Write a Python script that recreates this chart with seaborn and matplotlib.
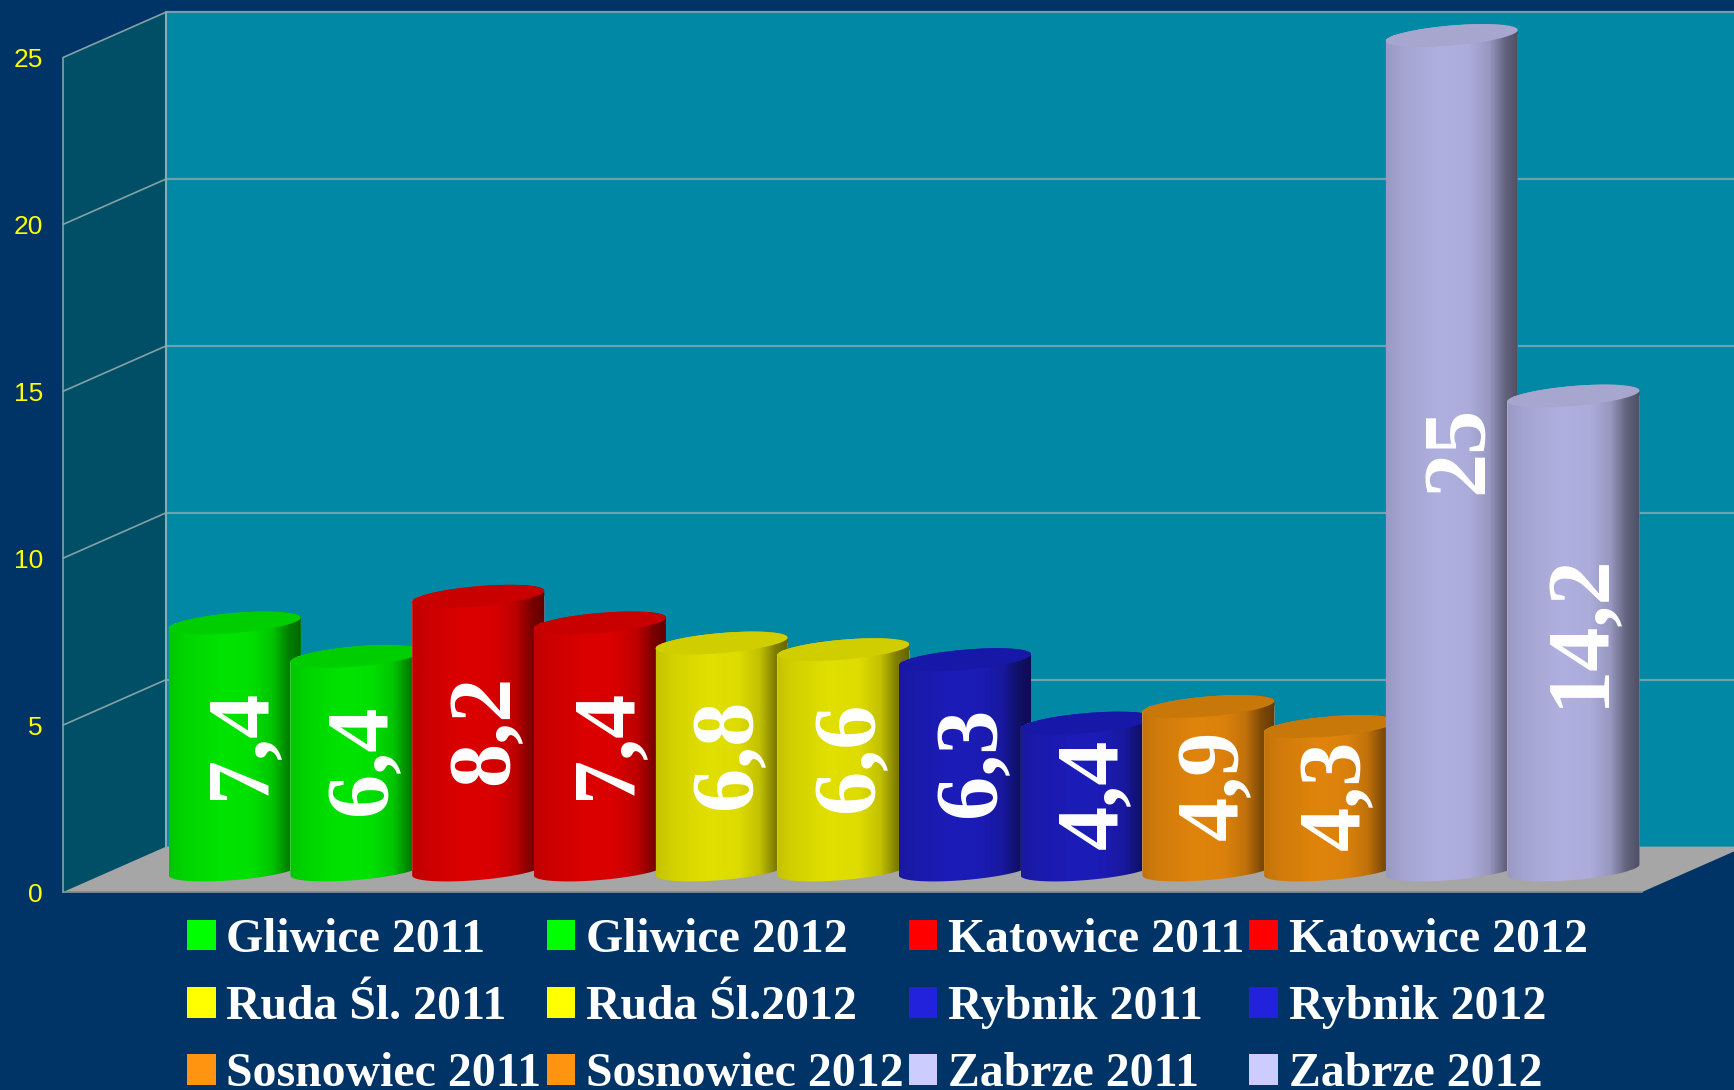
import numpy as np
import pandas as pd
import matplotlib
matplotlib.use("Agg")
import matplotlib.pyplot as plt
from matplotlib.patches import Patch, Polygon
from matplotlib.path import Path
import seaborn as sns

labels = ["Gliwice 2011", "Gliwice 2012", "Katowice 2011", "Katowice 2012",
          "Ruda Śl. 2011", "Ruda Śl.2012", "Rybnik 2011", "Rybnik 2012",
          "Sosnowiec 2011", "Sosnowiec 2012", "Zabrze 2011", "Zabrze 2012"]
values = [7.4, 6.4, 8.2, 7.4, 6.8, 6.6, 6.3, 4.4, 4.9, 4.3, 25, 14.2]
bar_colors = ["#00E400", "#00E400", "#DC0000", "#DC0000", "#E2E000", "#E2E000",
              "#1C1CB8", "#1C1CB8", "#E0840C", "#E0840C", "#B0B0E0", "#B0B0E0"]
top_colors = ["#00CE00", "#00CE00", "#C80000", "#C80000", "#D0CE00", "#D0CE00",
              "#1818A8", "#1818A8", "#C87808", "#C87808", "#A7A6CF", "#A7A6CF"]
legend_colors = ["#00FF00", "#00FF00", "#FF0000", "#FF0000", "#FFFF00", "#FFFF00",
                 "#2222DD", "#2222DD", "#FF9410", "#FF9410", "#CCCCFF", "#CCCCFF"]
tick_values = [0, 5, 10, 15, 20, 25]

NAVY = "#003366"
BACK = "#0088A4"
SIDE = "#004F66"
FLOOR = "#A6A6A6"
GRID = "#6CA3AF"
W, H = 1734, 1090
PX_X, X0 = 121.7, 234.8   # pixels per bar slot, pixel of first bar
PX_Y, Y0 = 33.38, 870.0   # pixels per unit, pixel of the bar base
FRONT = -0.66             # value offset of the front plane
REAR = 0.70               # value offset of the back wall
LEFT_F, LEFT_B = (63 - X0) / PX_X, (166 - X0) / PX_X
RIGHT_F, RIGHT_B = (1642 - X0) / PX_X, (1745 - X0) / PX_X
BAR_W = 1.085
TILT, DEPTH = 0.165, 0.30
STOPS_X = [0, .12, .40, .62, .78, .90, 1]
STOPS_V = [.87, .93, 1.0, .98, .86, .56, .44]

sns.set_theme(style="white", rc={"figure.facecolor": NAVY, "axes.facecolor": NAVY})
plt.rcParams["font.family"] = ["Liberation Sans", "DejaVu Sans"]

fig = plt.figure(figsize=(W / 100, H / 100), dpi=100, facecolor=NAVY)
ax = fig.add_axes([0, 0, 1, 1])

df = pd.DataFrame({"label": labels, "value": values})
sns.barplot(data=df, x="label", y="value", hue="label", order=labels, hue_order=labels,
            palette=bar_colors, width=BAR_W, dodge=False, legend=False,
            saturation=1, ax=ax)

# walls and floor
top = tick_values[-1]
ax.add_patch(Polygon([(LEFT_B, REAR), (RIGHT_B + 1, REAR), (RIGHT_B + 1, top + REAR), (LEFT_B, top + REAR)],
                     fc=BACK, ec="none", zorder=1))
ax.add_patch(Polygon([(LEFT_F, FRONT), (LEFT_B, REAR), (LEFT_B, top + REAR), (LEFT_F, top + FRONT)],
                     fc=SIDE, ec="none", zorder=1))
ax.add_patch(Polygon([(LEFT_F, FRONT), (RIGHT_F, FRONT), (RIGHT_B, REAR), (LEFT_B, REAR)],
                     fc=FLOOR, ec="none", zorder=2))
ax.plot([LEFT_F, RIGHT_F], [FRONT, FRONT], color="#7C8C98", lw=1.3, zorder=3)
for v in tick_values[1:]:
    ax.plot([LEFT_B, RIGHT_B + 1], [v + REAR, v + REAR], color=GRID, lw=1.6, zorder=3)
    ax.plot([LEFT_F, LEFT_B], [v + FRONT, v + REAR], color="#84A2A8", lw=1.2, zorder=3)
ax.plot([LEFT_B, LEFT_B], [REAR, top + REAR], color="#84ACB4", lw=1.5, zorder=3)
ax.plot([LEFT_F, LEFT_F], [FRONT, top + FRONT], color="#84A2A8", lw=1.2, zorder=3)

# cylinders built on the seaborn bars
t_arc = np.linspace(0, np.pi, 80)
for i, (cont, val, col, tc) in enumerate(zip(ax.containers, values, bar_colors, top_colors)):
    rect = cont[0]
    l, w = rect.get_x(), rect.get_width()
    cx, hw = l + w / 2, w / 2
    h = rect.get_height()
    arc_top = np.c_[cx + hw * np.cos(np.pi - t_arc),
                    h + TILT * np.cos(np.pi - t_arc) + DEPTH * np.sin(np.pi - t_arc)]
    arc_bot = np.c_[cx + hw * np.cos(-t_arc),
                    TILT * np.cos(-t_arc) + DEPTH * np.sin(-t_arc)]
    outline = np.vstack([arc_top, arc_bot, arc_top[:1]])
    clip = Path(outline, closed=True)
    z = 10 + i
    rect.set_zorder(z)
    rect.set_clip_path(clip, ax.transData)
    xs = np.linspace(0, 1, 256)
    shade = np.interp(xs, STOPS_X, STOPS_V)
    grad = (np.array(matplotlib.colors.to_rgb(col))[None, None, :] * shade[None, :, None]).clip(0, 1)
    im = ax.imshow(grad, extent=(l, l + w, -1, h + 1), aspect="auto", origin="lower",
                   interpolation="bilinear", zorder=z + 0.1)
    im.set_clip_path(clip, ax.transData)
    tt = np.linspace(0, 2 * np.pi, 160)
    ax.add_patch(Polygon(np.c_[cx + hw * np.cos(tt), h + TILT * np.cos(tt) + DEPTH * np.sin(tt)],
                         fc=tc, ec="none", zorder=z + 0.2))
    ann = ax.bar_label(cont, labels=[f"{val:g}".replace(".", ",")], label_type="center",
                       rotation=90, color="white", fontsize=63.5, fontweight="bold",
                       family="Liberation Serif")
    for a in ann:
        a.set_zorder(100)
        a.xyann = (5.2, 2.2)

ax.set_xlim(-X0 / PX_X, (W - X0) / PX_X)
ax.set_ylim((Y0 - H) / PX_Y, Y0 / PX_Y)
ax.set_xticks([])
ax.set_xlabel("")
ax.set_ylabel("")
ax.set_yticks([v + FRONT for v in tick_values], labels=[str(v) for v in tick_values])
ax.tick_params(axis="y", direction="in", length=0, pad=-31, labelsize=19, labelcolor="#FFFF00")
for s in ax.spines.values():
    s.set_visible(False)

# legend: four columns, filled row by row
handles = [Patch(fc=c, ec="none", label=t) for c, t in zip(legend_colors, labels)]
order = [j + 4 * r for j in range(4) for r in range(3)]
ax.legend(handles=[handles[k] for k in order], ncols=4, loc="upper left",
          bbox_to_anchor=(187 / W, 1 - 918 / H), bbox_transform=fig.transFigure,
          frameon=False, borderpad=0, borderaxespad=0,
          handlelength=0.6, handleheight=0.6, handletextpad=0.22,
          columnspacing=0.11, labelspacing=0.485,
          labelcolor="white",
          prop={"family": "Liberation Serif", "weight": "bold", "size": 34.4})

fig.savefig("out.png", dpi=100, facecolor=NAVY)
